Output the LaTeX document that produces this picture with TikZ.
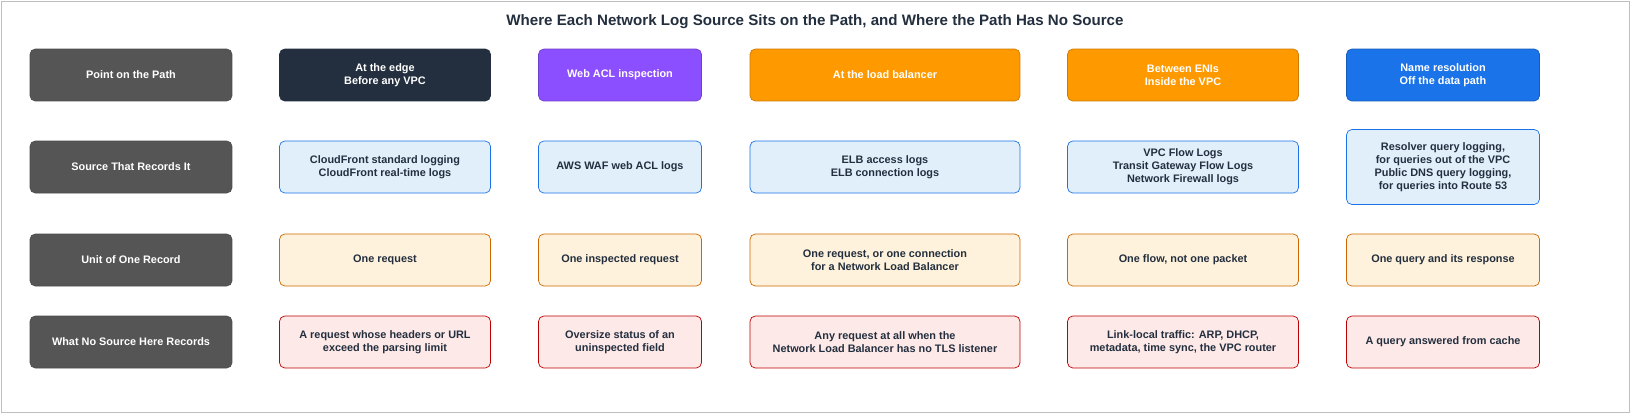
\documentclass[tikz,border=0pt]{standalone}
\usepackage{fontspec}
\setmainfont{Liberation Sans}
\usetikzlibrary{positioning}
\definecolor{rowgray}{HTML}{555555}
\definecolor{navy}{HTML}{232F3E}
\definecolor{wafpurple}{HTML}{8C4FFF}
\definecolor{elborange}{HTML}{FF9900}
\definecolor{dnsblue}{HTML}{1A73E8}
\definecolor{srcfill}{HTML}{E1EFFB}
\definecolor{unitfill}{HTML}{FFF2DC}
\definecolor{missfill}{HTML}{FDE9E8}
\definecolor{txt}{HTML}{232F3E}
\begin{document}
\begin{tikzpicture}[x=0.02cm,y=-0.02cm,
			box/.style={draw,rectangle,rounded corners=3pt,minimum height=1.04cm,align=center,font=\fontsize{6.2}{7.4}\selectfont\bfseries,inner sep=2pt},
			rowlabel/.style={box,fill=rowgray,draw=black!70,text=white,minimum width=4.04cm},
			head/.style={box,text=white},
			src/.style={box,fill=srcfill,draw=dnsblue,text=txt},
			unit/.style={box,fill=unitfill,draw=orange!80!black,text=txt},
			miss/.style={box,fill=missfill,draw=red!75!black,text=txt}]
			\useasboundingbox (0,0) rectangle (1630,413);
			\draw[black!25] (1,1) rectangle (1629,412);
			\node (title) at (815,22) [font=\fontsize{8.6}{10}\selectfont\bfseries,text=txt] {Where Each Network Log Source Sits on the Path, and Where the Path Has No Source};

			% row labels
			\node (rpoint) at (131,75) [rowlabel] {Point on the Path};
			\node (rsource) at (131,167) [rowlabel] {Source That Records It};
			\node (runit) at (131,260) [rowlabel] {Unit of One Record};
			\node (rmiss) at (131,342) [rowlabel] {What No Source Here Records};

			% points on the path
			\node (pedge) at (385,75) [head,fill=navy,draw=navy,minimum width=4.22cm] {At the edge\\Before any VPC};
			\node (pwaf) at (620,75) [head,fill=wafpurple,draw=wafpurple!80!black,minimum width=3.26cm] {Web ACL inspection};
			\node (pelb) at (885,75) [head,fill=elborange,draw=elborange!80!black,minimum width=5.4cm] {At the load balancer};
			\node (peni) at (1183,75) [head,fill=elborange,draw=elborange!80!black,minimum width=4.62cm] {Between ENIs\\Inside the VPC};
			\node (pdns) at (1443,75) [head,fill=dnsblue,draw=dnsblue!80!black,minimum width=3.86cm] {Name resolution\\Off the data path};

			% sources
			\node (sedge) at (385,167) [src,minimum width=4.22cm] {CloudFront standard logging\\CloudFront real-time logs};
			\node (swaf) at (620,167) [src,minimum width=3.26cm] {AWS WAF web ACL logs};
			\node (selb) at (885,167) [src,minimum width=5.4cm] {ELB access logs\\ELB connection logs};
			\node (seni) at (1183,167) [src,minimum width=4.62cm] {VPC Flow Logs\\Transit Gateway Flow Logs\\Network Firewall logs};
			\node (sdns) at (1443,167) [src,minimum width=3.86cm,minimum height=1.5cm] {Resolver query logging,\\for queries out of the VPC\\Public DNS query logging,\\for queries into Route 53};

			% units
			\node (uedge) at (385,260) [unit,minimum width=4.22cm] {One request};
			\node (uwaf) at (620,260) [unit,minimum width=3.26cm] {One inspected request};
			\node (uelb) at (885,260) [unit,minimum width=5.4cm] {One request, or one connection\\for a Network Load Balancer};
			\node (ueni) at (1183,260) [unit,minimum width=4.62cm] {One flow, not one packet};
			\node (udns) at (1443,260) [unit,minimum width=3.86cm] {One query and its response};

			% gaps
			\node (medge) at (385,342) [miss,minimum width=4.22cm] {A request whose headers or URL\\exceed the parsing limit};
			\node (mwaf) at (620,342) [miss,minimum width=3.26cm] {Oversize status of an\\uninspected field};
			\node (melb) at (885,342) [miss,minimum width=5.4cm] {Any request at all when the\\Network Load Balancer has no TLS listener};
			\node (meni) at (1183,342) [miss,minimum width=4.62cm] {Link-local traffic: ARP, DHCP,\\metadata, time sync, the VPC router};
			\node (mdns) at (1443,342) [miss,minimum width=3.86cm] {A query answered from cache};
		\end{tikzpicture}
\end{document}
